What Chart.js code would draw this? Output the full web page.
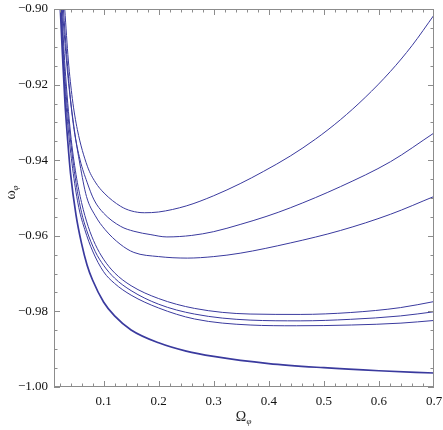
<!DOCTYPE html>
<html>
<head>
<meta charset="utf-8">
<script src="https://cdn.jsdelivr.net/npm/chart.js@4.4.1/dist/chart.umd.min.js"></script>
<style>
  html, body { margin: 0; padding: 0; background: #fff; }
  #chart { display: block; }
</style>
</head>
<body>
<canvas id="chart" width="443" height="430"></canvas>
<script>
// tick labels
var xTickValues = [0.1, 0.2, 0.3, 0.4, 0.5, 0.6, 0.7];
var yTickValues = [-1.00, -0.98, -0.96, -0.94, -0.92, -0.90];

// curves, top curve first (Omega_phi, omega_phi)
var curve1X = [0.0295, 0.036, 0.0433, 0.0524, 0.0706, 0.085, 0.101, 0.131, 0.15, 0.174, 0.2, 0.25, 0.3, 0.348, 0.39, 0.439, 0.485, 0.53, 0.575, 0.621, 0.66, 0.70];
var curve1W = [-0.900, -0.9135, -0.9237, -0.9319, -0.9416, -0.9458, -0.9487, -0.9522, -0.9534, -0.9539, -0.9537, -0.9521, -0.9494, -0.9462, -0.9430, -0.9389, -0.9344, -0.9293, -0.9234, -0.9165, -0.9097, -0.9016];

var curve2X = [0.027, 0.033, 0.040, 0.0464, 0.0573, 0.07, 0.0827, 0.1, 0.131, 0.155, 0.186, 0.215, 0.26, 0.3, 0.348, 0.395, 0.439, 0.53, 0.621, 0.70];
var curve2W = [-0.900, -0.912, -0.924, -0.9319, -0.9399, -0.9458, -0.9505, -0.954, -0.9575, -0.9588, -0.9597, -0.9603, -0.9599, -0.9589, -0.957, -0.9549, -0.9526, -0.947, -0.9404, -0.9328];

var curve3X = [0.025, 0.035, 0.047, 0.057, 0.069, 0.085, 0.103, 0.13, 0.155, 0.2, 0.252, 0.3, 0.348, 0.439, 0.53, 0.621, 0.70];
var curve3W = [-0.900, -0.9175, -0.932, -0.941, -0.9496, -0.9547, -0.9584, -0.9622, -0.9644, -0.9655, -0.9659, -0.9655, -0.9646, -0.9619, -0.9586, -0.9543, -0.9496];

var curve4X = [0.024, 0.03, 0.04, 0.05, 0.06, 0.072, 0.085, 0.1, 0.12, 0.15, 0.2, 0.265, 0.366, 0.457, 0.548, 0.639, 0.70];
var curve4W = [-0.900, -0.9153, -0.9328, -0.9438, -0.9512, -0.9575, -0.9623, -0.9662, -0.9698, -0.9732, -0.9766, -0.9792, -0.9807, -0.9808, -0.9803, -0.979, -0.9774];

var curve5X = [0.023, 0.03, 0.038, 0.05, 0.06, 0.069, 0.085, 0.1, 0.12, 0.15, 0.2, 0.265, 0.366, 0.457, 0.548, 0.639, 0.70];
var curve5W = [-0.900, -0.9185, -0.932, -0.946, -0.9538, -0.9584, -0.9642, -0.9678, -0.9712, -0.9745, -0.9781, -0.9807, -0.9823, -0.9825, -0.9821, -0.9812, -0.9801];

var curve6X = [0.0222, 0.03, 0.036, 0.045, 0.055, 0.066, 0.08, 0.1, 0.12, 0.15, 0.2, 0.265, 0.366, 0.45, 0.55, 0.64, 0.70];
var curve6W = [-0.900, -0.9215, -0.932, -0.9435, -0.9525, -0.9584, -0.964, -0.9695, -0.9726, -0.9757, -0.9791, -0.982, -0.9836, -0.9838, -0.9836, -0.9831, -0.9824];

var curve7X = [0.0215, 0.025, 0.03, 0.035, 0.04, 0.05, 0.06, 0.07, 0.08, 0.1, 0.12, 0.15, 0.2, 0.25, 0.3, 0.4, 0.5, 0.6, 0.7];
var curve7W = [-0.900, -0.911, -0.925, -0.935, -0.9435, -0.9545, -0.962, -0.9677, -0.9717, -0.9775, -0.9812, -0.9849, -0.9883, -0.9905, -0.9919, -0.9938, -0.9949, -0.9957, -0.9963];

var lineColor = 'rgb(58, 58, 158)';
var frameColor = '#8c8c8c';
var labelFont = '"Liberation Serif", "DejaVu Serif", serif';

function toPoints(xs, ys) {
    return xs.map(function (x, i) { return { x: x, y: ys[i] }; });
}

function curve(xs, ys, width) {
    return {
        data: toPoints(xs, ys),
        borderColor: lineColor,
        borderWidth: width,
        pointRadius: 0,
        fill: false,
        cubicInterpolationMode: 'monotone'
    };
}

// frame with inward major/minor ticks on all four sides, plus axis labels
var framePlugin = {
    id: 'frame',
    afterDraw: function (chart) {
        var ctx = chart.ctx;
        var a = chart.chartArea;
        var xs = chart.scales.x;
        var ys = chart.scales.y;
        ctx.save();
        ctx.strokeStyle = frameColor;
        ctx.lineWidth = 1;
        ctx.strokeRect(Math.round(a.left) + 0.5, Math.round(a.top) + 0.5,
            Math.round(a.right - a.left) - 1, Math.round(a.bottom - a.top) - 1);

        ctx.beginPath();
        var i, v, p, len;
        for (i = 1; i <= 34; i++) {
            v = i * 0.02;
            if (v < xs.min || v > xs.max) continue;
            len = (i % 5 === 0) ? 6 : 3.5;
            p = Math.round(xs.getPixelForValue(v)) + 0.5;
            ctx.moveTo(p, a.bottom); ctx.lineTo(p, a.bottom - len);
            ctx.moveTo(p, a.top); ctx.lineTo(p, a.top + len);
        }
        for (i = 0; i <= 20; i++) {
            v = -1 + i * 0.005;
            len = (i % 4 === 0) ? 6 : 3.5;
            p = Math.round(ys.getPixelForValue(v)) + 0.5;
            ctx.moveTo(a.left, p); ctx.lineTo(a.left + len, p);
            ctx.moveTo(a.right, p); ctx.lineTo(a.right - len, p);
        }
        ctx.stroke();

        ctx.fillStyle = '#222';
        ctx.textAlign = 'center';
        ctx.textBaseline = 'alphabetic';
        // x label: Omega_phi
        var cx = (a.left + a.right) / 2 - 3;
        ctx.font = '14px ' + labelFont;
        ctx.fillText('Ω', cx, 421);
        ctx.font = 'italic 9px ' + labelFont;
        ctx.fillText('φ', cx + 8, 424);
        // y label: omega_phi, rotated
        ctx.translate(15, (a.top + a.bottom) / 2 - 3);
        ctx.rotate(-Math.PI / 2);
        ctx.font = '14px ' + labelFont;
        ctx.fillText('ω', 0, 0);
        ctx.font = 'italic 9px ' + labelFont;
        ctx.fillText('φ', 7, 3);
        ctx.restore();
    }
};

new Chart(document.getElementById('chart'), {
    type: 'line',
    data: {
        datasets: [
            curve(curve1X, curve1W, 1),
            curve(curve2X, curve2W, 1),
            curve(curve3X, curve3W, 1),
            curve(curve4X, curve4W, 1),
            curve(curve5X, curve5W, 1),
            curve(curve6X, curve6W, 1),
            curve(curve7X, curve7W, 1.7)
        ]
    },
    options: {
        responsive: false,
        animation: false,
        devicePixelRatio: 1,
        layout: { padding: { top: 9, right: 9, left: 0, bottom: 0 } },
        plugins: {
            legend: { display: false },
            tooltip: { enabled: false }
        },
        scales: {
            x: {
                type: 'linear',
                min: 0.01,
                max: 0.7,
                grid: { display: false, drawTicks: false },
                border: { display: false },
                afterBuildTicks: function (scale) {
                    scale.ticks = xTickValues.map(function (v) { return { value: v }; });
                },
                afterFit: function (scale) {
                    scale.height = 43;
                    scale.paddingLeft = 0;
                    scale.paddingRight = 0;
                },
                ticks: {
                    padding: 7,
                    color: '#111',
                    font: { family: labelFont, size: 13 },
                    maxRotation: 0,
                    callback: function (v) { return v.toFixed(1); }
                }
            },
            y: {
                type: 'linear',
                min: -1.00,
                max: -0.90,
                grid: { display: false, drawTicks: false },
                border: { display: false },
                afterBuildTicks: function (scale) {
                    scale.ticks = yTickValues.map(function (v) { return { value: v }; });
                },
                afterFit: function (scale) {
                    scale.width = 54;
                    scale.paddingTop = 0;
                    scale.paddingBottom = 0;
                },
                ticks: {
                    padding: 6,
                    color: '#111',
                    font: { family: labelFont, size: 13 },
                    callback: function (v) { return '\u2212' + Math.abs(v).toFixed(2); }
                }
            }
        }
    },
    plugins: [framePlugin]
});
</script>
</body>
</html>
